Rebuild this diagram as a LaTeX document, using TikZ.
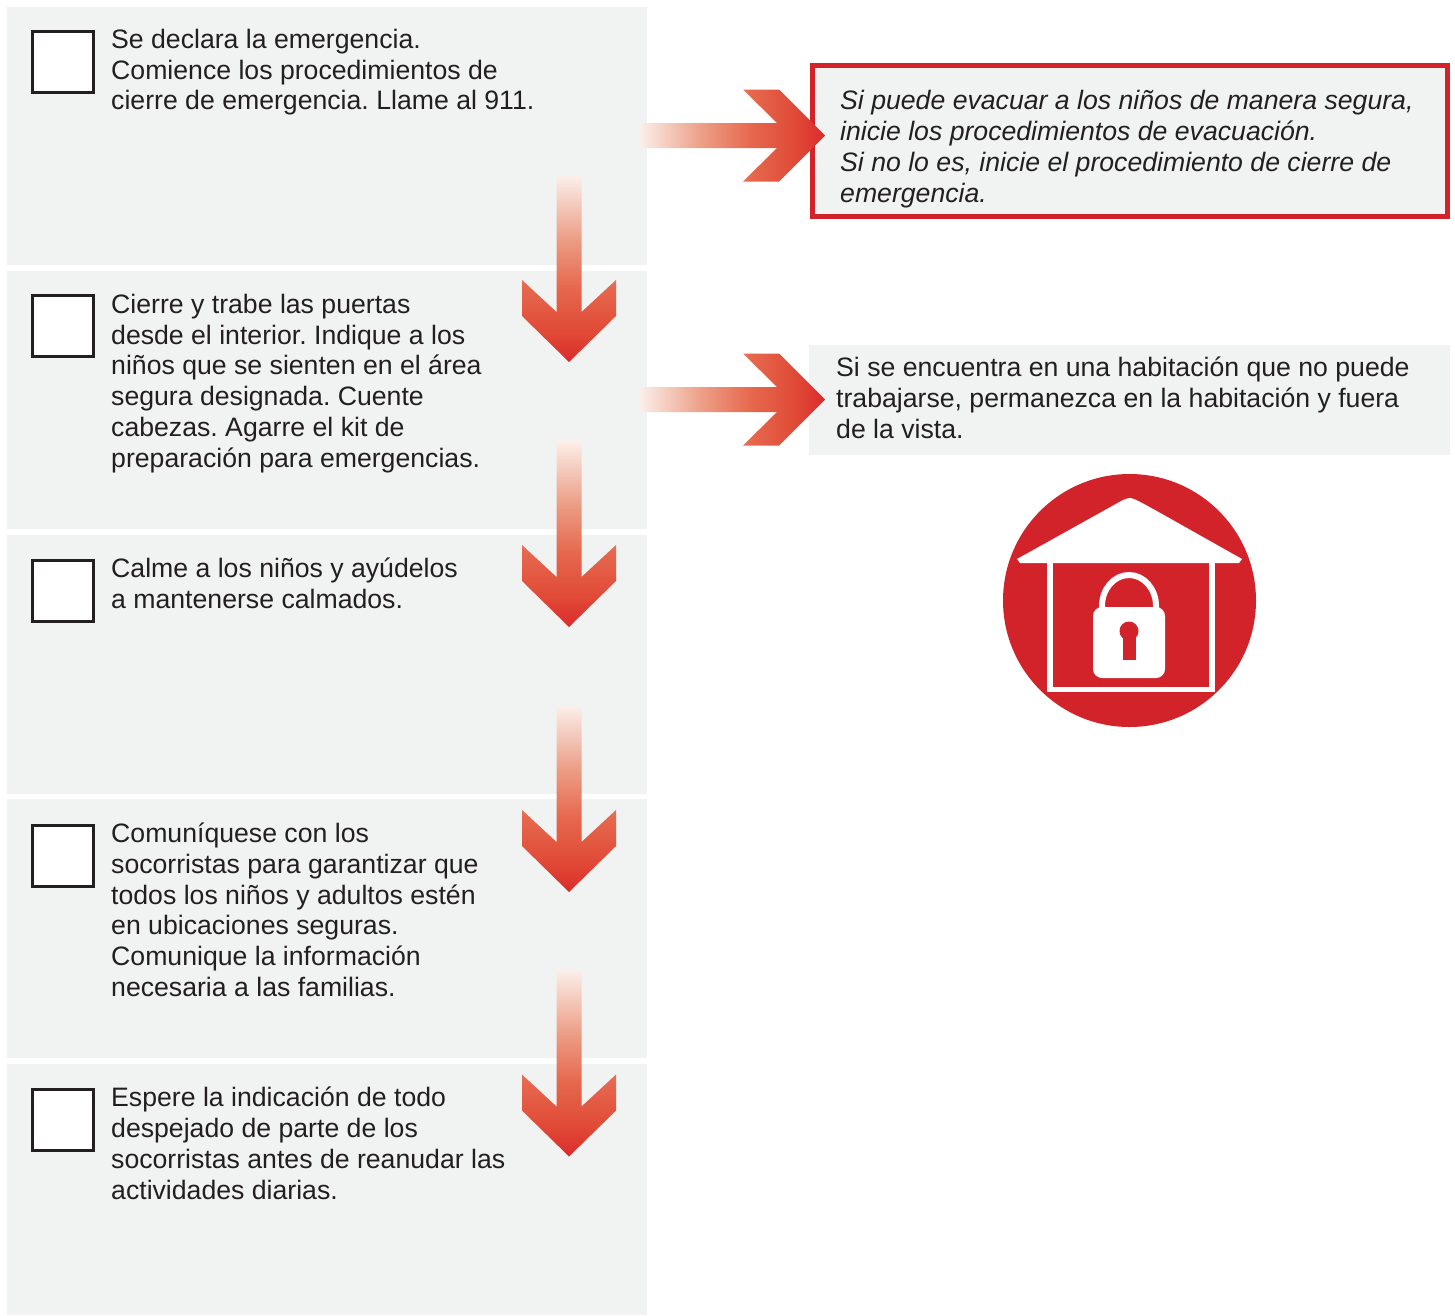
\documentclass[tikz,border=0pt]{standalone}
\usepackage{fontspec}
\setmainfont{Liberation Sans}
\frenchspacing
\definecolor{panel}{HTML}{F1F3F2}
\definecolor{brand}{HTML}{D2232A}
\definecolor{ink}{HTML}{231F20}
\definecolor{arrowlight}{HTML}{FBF0EB}
\definecolor{arrowmid}{HTML}{EC9E86}
\definecolor{arroworange}{HTML}{E6684E}
\definecolor{arrowdeep}{HTML}{E04A36}
\definecolor{arrowred}{HTML}{DC2A2C}
\pgfdeclareverticalshading{arrowdown}{100bp}{color(0bp)=(arrowred); color(25bp)=(arrowred); color(33bp)=(arrowdeep); color(45bp)=(arroworange); color(58bp)=(arrowmid); color(75bp)=(arrowlight); color(100bp)=(arrowlight)}
\pgfdeclarehorizontalshading{arrowright}{100bp}{color(0bp)=(arrowlight); color(25bp)=(arrowlight); color(42bp)=(arrowmid); color(55bp)=(arroworange); color(67bp)=(arrowdeep); color(75bp)=(arrowred); color(100bp)=(arrowred)}
\tikzset{
  panelbox/.style={fill=panel,draw=none},
  checkbox/.style={draw=ink,line width=3pt,fill=white,minimum width=61pt,minimum height=61pt,inner sep=0pt,anchor=north west},
  steptext/.style={anchor=north west,inner sep=0pt,align=left,text=ink,font=\fontsize{26.65}{30.8}\selectfont},
}
\newcommand{\downarrowshape}[1]{%
  \shade[shading=arrowdown,shift={(#1)}]
    (-12.5,0) -- (12.5,0) -- (12.5,137) -- (47,105) -- (47,141) -- (0,187) -- (-47,141) -- (-47,105) -- (-12.5,137) -- cycle;}
\newcommand{\rightarrowshape}[1]{%
  \shade[shading=arrowright,shift={(#1)}]
    (0,-12.5) -- (138,-12.5) -- (104,-46) -- (140,-46) -- (186,0) -- (140,46) -- (104,46) -- (138,12.5) -- (0,12.5) -- cycle;}
\begin{document}
\begin{tikzpicture}[x=1pt,y=-1pt]
\useasboundingbox (0,0) rectangle (1455,1315);
% panels
\fill[panelbox] (7,7) rectangle (647,265);
\fill[panelbox] (7,271) rectangle (647,529);
\fill[panelbox] (7,535) rectangle (647,794);
\fill[panelbox] (7,799) rectangle (647,1058);
\fill[panelbox] (7,1064) rectangle (647,1315);
% check boxes
\node[checkbox] (c1) at (31,30) {};
\node[checkbox] (c2) at (31,294.3) {};
\node[checkbox] (c3) at (31,559) {};
\node[checkbox] (c4) at (31,824) {};
\node[checkbox] (c5) at (31,1088.3) {};
% step text
\node[steptext] (t1) at (111,28.8) {Se declara la emergencia.\\Comience los procedimientos de\\cierre de emergencia. Llame al 911.};
\node[steptext] (t2) at (111,293.7) {Cierre y trabe las puertas\\desde el interior. Indique a los\\niños que se sienten en el área\\segura designada. Cuente\\cabezas. Agarre el kit de\\preparación para emergencias.};
\node[steptext] (t3) at (111,557.8) {Calme a los niños y ayúdelos\\a mantenerse calmados.};
\node[steptext] (t4) at (111,822.7) {Comuníquese con los\\socorristas para garantizar que\\todos los niños y adultos estén\\en ubicaciones seguras.\\Comunique la información\\necesaria a las familias.};
\node[steptext] (t5) at (111,1086.8) {Espere la indicación de todo\\despejado de parte de los\\socorristas antes de reanudar las\\actividades diarias.};
% side boxes
\fill[panel] (809,345) rectangle (1450,455);
\draw[brand,line width=5pt,fill=panel] (812.5,65.5) rectangle (1447,216);
\node[steptext,font=\fontsize{26.65}{30.9}\selectfont\itshape] (s1) at (840,90.3) {Si puede evacuar a los niños de manera segura,\\inicie los procedimientos de evacuación.\\Si no lo es, inicie el procedimiento de cierre de\\emergencia.};
\node[steptext] (s2) at (836,356.6) {Si se encuentra en una habitación que no puede\\trabajarse, permanezca en la habitación y fuera\\de la vista.};
% arrows
\coordinate (a1) at (569,175);
\coordinate (a2) at (569,440);
\coordinate (a3) at (569,705);
\coordinate (a4) at (569,969.5);
\coordinate (r1) at (639,135.5);
\coordinate (r2) at (639,399.5);
\downarrowshape{a1}
\downarrowshape{a2}
\downarrowshape{a3}
\downarrowshape{a4}
\rightarrowshape{r1}
\rightarrowshape{r2}
% icon
\fill[brand] (1129.5,600.5) circle (126.5);
\fill[white] (1017,559) -- (1105,510) .. controls (1118,503) and (1125,498) .. (1129.5,498) .. controls (1134,498) and (1142,503) .. (1155,510) -- (1242,559) -- (1239,563) -- (1020,563) -- cycle;
\draw[white,line width=5.5pt] (1050,563) -- (1050,689.5) -- (1212,689.5) -- (1212,563);
\fill[white,rounded corners=9pt] (1093,607) rectangle (1165,678);
\draw[white,line width=6pt] (1102,612) -- (1102,606) arc[start angle=180,end angle=0,x radius=27,y radius=-31] -- (1156,612);
\fill[brand] (1129,631) circle (9.5);
\fill[brand] (1122.5,631) rectangle (1135.5,660);
\end{tikzpicture}
\end{document}
